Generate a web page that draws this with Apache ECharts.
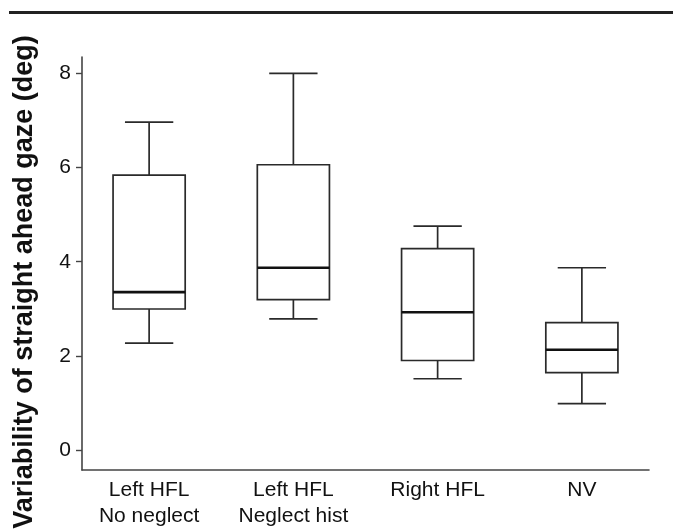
<!DOCTYPE html>
<html>
<head>
<meta charset="utf-8">
<script src="https://cdn.jsdelivr.net/npm/echarts@6/dist/echarts.min.js"></script>
<style>
  html, body { margin: 0; padding: 0; background: #fff; }
  #main { width: 673px; height: 529px; }
</style>
</head>
<body>
<div id="main"></div>
<script>
  let categories = ['Left HFL\nNo neglect', 'Left HFL\nNeglect hist', 'Right HFL', 'NV']
  let lowerWhisker = [2.24, 2.76, 1.48, 0.95]
  let q1 = [2.97, 3.17, 1.87, 1.61]
  let median = [3.33, 3.85, 2.90, 2.10]
  let q3 = [5.83, 6.05, 4.26, 2.68]
  let upperWhisker = [6.96, 8.0, 4.74, 3.85]
  let yTicks = [0, 2, 4, 6, 8]
  let yTitle = 'Variability of straight ahead gaze (deg)'

  let font = 'Liberation Sans, Arial, Helvetica, sans-serif'

  let boxData = categories.map(function (c, i) {
    return [i, lowerWhisker[i], q1[i], median[i], q3[i], upperWhisker[i]]
  })

  function renderBox(params, api) {
    let x = api.value(0)
    let pLow = api.coord([x, api.value(1)])
    let pQ1 = api.coord([x, api.value(2)])
    let pMed = api.coord([x, api.value(3)])
    let pQ3 = api.coord([x, api.value(4)])
    let pHigh = api.coord([x, api.value(5)])
    let bw = api.size([1, 0])[0] * 0.5
    let cw = bw * 0.67
    let cx = pMed[0]
    let ls = { stroke: '#2a2a2a', lineWidth: 1.7, fill: null }
    return {
      type: 'group',
      children: [
        { type: 'line', shape: { x1: cx, y1: pHigh[1], x2: cx, y2: pQ3[1] }, style: ls },
        { type: 'line', shape: { x1: cx - cw / 2, y1: pHigh[1], x2: cx + cw / 2, y2: pHigh[1] }, style: ls },
        { type: 'line', shape: { x1: cx, y1: pQ1[1], x2: cx, y2: pLow[1] }, style: ls },
        { type: 'line', shape: { x1: cx - cw / 2, y1: pLow[1], x2: cx + cw / 2, y2: pLow[1] }, style: ls },
        {
          type: 'rect',
          shape: { x: cx - bw / 2, y: pQ3[1], width: bw, height: pQ1[1] - pQ3[1] },
          style: { stroke: '#2a2a2a', lineWidth: 1.7, fill: '#fff' }
        },
        { type: 'line', shape: { x1: cx - bw / 2, y1: pMed[1], x2: cx + bw / 2, y2: pMed[1] }, style: { stroke: '#111', lineWidth: 2.6 } }
      ]
    }
  }

  let myChart = echarts.init(document.getElementById('main'))
  let option = {
    animation: false,
    backgroundColor: '#fff',
    textStyle: { fontFamily: font },
    grid: [
      // grid used by the boxes (category bands)
      { left: 77, right: 19, top: 57, bottom: 59 },
      // grid used for the drawn axes
      { left: 82, right: 24, top: 57, bottom: 59 }
    ],
    xAxis: [
      {
        type: 'category',
        gridIndex: 0,
        data: categories,
        axisLine: { show: false, onZero: false },
        axisTick: { show: false },
        splitLine: { show: false },
        axisLabel: {
          color: '#111',
          fontSize: 21,
          lineHeight: 26,
          margin: 9,
          fontFamily: font
        }
      },
      {
        type: 'value',
        gridIndex: 1,
        min: 0,
        max: 1,
        axisLine: { show: true, onZero: false, lineStyle: { color: '#444', width: 1.6 } },
        axisTick: { show: false },
        axisLabel: { show: false },
        splitLine: { show: false }
      }
    ],
    yAxis: [
      {
        type: 'value',
        gridIndex: 0,
        min: -0.425,
        max: 8.35,
        show: false
      },
      {
        type: 'value',
        gridIndex: 1,
        min: -0.425,
        max: 8.35,
        axisLine: { show: true, onZero: false, lineStyle: { color: '#444', width: 1.6 } },
        axisTick: {
          show: true,
          length: 6,
          customValues: yTicks,
          lineStyle: { color: '#444', width: 1.4 }
        },
        axisLabel: {
          customValues: yTicks,
          color: '#111',
          fontSize: 21,
          margin: 11,
          fontFamily: font
        },
        splitLine: { show: false }
      }
    ],
    graphic: [
      {
        type: 'rect',
        shape: { x: 9, y: 11, width: 664, height: 3 },
        style: { fill: '#222' }
      },
      {
        type: 'text',
        x: 25,
        y: 282,
        rotation: Math.PI / 2,
        style: {
          text: yTitle,
          fill: '#111',
          font: 'bold 27px ' + font,
          align: 'center',
          verticalAlign: 'middle'
        }
      }
    ],
    series: [
      {
        type: 'custom',
        xAxisIndex: 0,
        yAxisIndex: 0,
        renderItem: renderBox,
        encode: { x: 0, y: [1, 2, 3, 4, 5] },
        data: boxData
      }
    ]
  }
  myChart.setOption(option)
</script>
</body>
</html>
